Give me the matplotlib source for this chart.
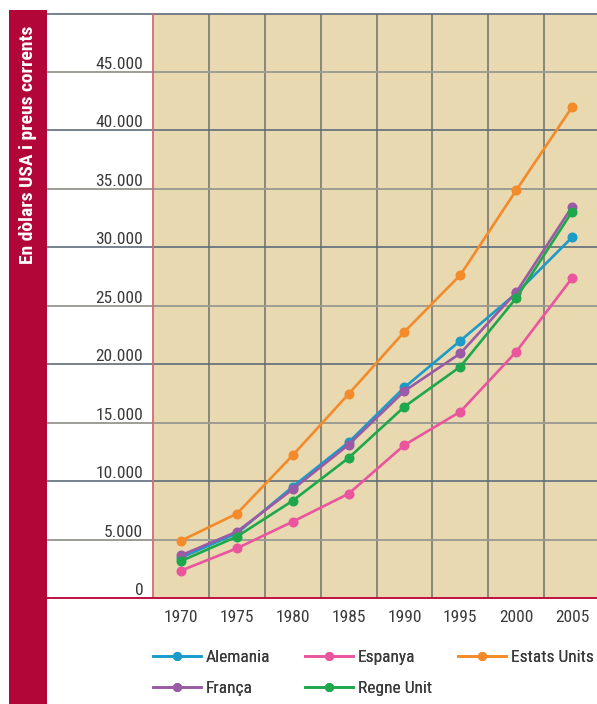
import matplotlib
matplotlib.use('Agg')
import matplotlib.pyplot as plt
from matplotlib.patches import Rectangle
from matplotlib.lines import Line2D
import matplotlib.transforms as mtransforms

years = ['1970', '1975', '1980', '1985', '1990', '1995', '2000', '2005']
alemania = [3450, 5530, 9520, 13320, 18020, 22010, 26060, 30860]
espanya = [2340, 4250, 6530, 8920, 13090, 15940, 21070, 27370]
estats_units = [4900, 7210, 12210, 17450, 22780, 27630, 34880, 42000]
franca = [3650, 5670, 9300, 13110, 17710, 20930, 26150, 33470]
regne_unit = [3160, 5250, 8320, 11980, 16370, 19790, 25660, 33050]
y_ticks = [0, 5000, 10000, 15000, 20000, 25000, 30000, 35000, 40000, 45000]
y_labels = ['0', '5.000', '10.000', '15.000', '20.000', '25.000', '30.000',
            '35.000', '40.000', '45.000']
y_label = 'En dòlars USA i preus corrents'

FONT = ['Roboto Condensed', 'DejaVu Sans']
plt.rcParams['font.family'] = FONT

C_BLUE = '#1a9bc8'
C_PINK = '#ea559e'
C_ORANGE = '#f38b2a'
C_PURPLE = '#9a5aa6'
C_GREEN = '#1ea84b'
CRIMSON = '#b20538'
TAN = '#e8d9b1'
TXT = '#3a3a3a'

W, H = 597, 704
fig = plt.figure(figsize=(W / 100, H / 100), dpi=100)
left, right, top, bottom = 153, 600, 13.6, 598
ax = fig.add_axes([left / W, 1 - bottom / H, (right - left) / W, (bottom - top) / H])
ax.set_facecolor(TAN)
x = list(range(len(years)))
ax.set_xlim(-0.5, 7.5)
ax.set_ylim(0, 50000)
for s in ax.spines.values():
    s.set_visible(False)

# vertical grid lines
for xv in [i + 0.5 for i in range(7)]:
    ax.axvline(xv, color='#6e6e6e', lw=1.1, zorder=1)

# horizontal lines extending into the label area
trans = mtransforms.blended_transform_factory(ax.transAxes, ax.transData)
x0 = (47 - left) / (right - left)
for v in y_ticks + [50000]:
    if v == 0:
        col, lw = '#c01040', 1.4
    elif (v // 5000) % 2 == 1:
        col, lw = '#9d9d95', 1.4
    else:
        col, lw = '#5d6c7a', 1.2
    ax.plot([x0, 1], [v, v], transform=trans, color=col, lw=lw, clip_on=False, zorder=2 if v else 6)

# left edge of plot area
ax.plot([0, 0], [0, 1], transform=ax.transAxes, color='#d46a7a', lw=1.3, clip_on=False, zorder=5)

series = [
    ('Espanya', espanya, C_PINK),
    ('Estats Units', estats_units, C_ORANGE),
    ('Alemania', alemania, C_BLUE),
    ('França', franca, C_PURPLE),
    ('Regne Unit', regne_unit, C_GREEN),
]
for name, vals, col in series:
    ax.plot(x, vals, color=col, lw=1.9, marker='o', markersize=6.2, zorder=4, label=name)

ax.set_xticks(x)
ax.set_xticklabels(years)
ax.set_yticks(y_ticks)
ax.set_yticklabels(y_labels, va='bottom')
ax.tick_params(axis='both', length=0, labelsize=12.5, colors=TXT)
ax.tick_params(axis='y', pad=7)
ax.tick_params(axis='x', pad=8.5)

# crimson side bar
fig.patches.append(Rectangle((9 / W, 0), 38 / W, 1 - 10 / H, transform=fig.transFigure,
                             facecolor=CRIMSON, edgecolor='none', zorder=0))
fig.text(28.5 / W, 1 - 145 / H, y_label, rotation=90, color='white', fontsize=14,
         fontweight='bold', ha='center', va='center')

# legend in three columns
def handle(col, name):
    return Line2D([], [], color=col, lw=1.9, marker='o', markersize=5.5, label=name)

cols = [
    (153, [handle(C_BLUE, 'Alemania'), handle(C_PURPLE, 'França')]),
    (305, [handle(C_PINK, 'Espanya'), handle(C_GREEN, 'Regne Unit')]),
    (458, [handle(C_ORANGE, 'Estats Units')]),
]
for xp, hs in cols:
    leg = fig.legend(handles=hs, loc='upper left', bbox_to_anchor=(xp / W, 1 - 650 / H),
                     frameon=False, fontsize=12.5, handlelength=2.75, handletextpad=0.3,
                     borderpad=0, borderaxespad=0, labelspacing=0.92, labelcolor=TXT)
    fig.add_artist(leg)

fig.savefig('out.png', dpi=100, facecolor='white')
